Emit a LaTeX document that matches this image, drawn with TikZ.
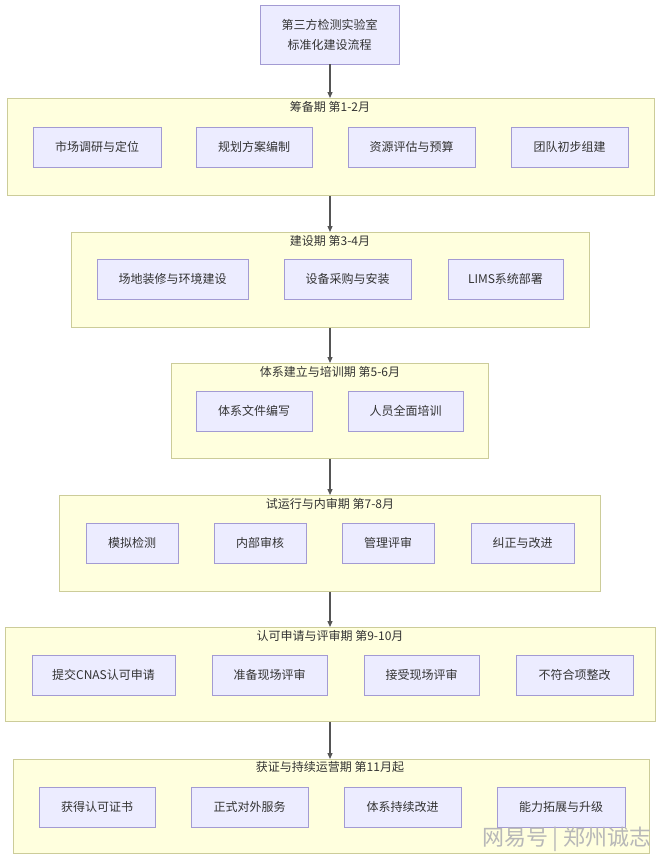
\documentclass[tikz,border=0pt]{standalone}
\usepackage{fontspec}
\setmainfont{Noto Sans CJK SC}
\usetikzlibrary{arrows.meta}
\definecolor{nodefill}{HTML}{ECECFF}
\definecolor{nodeline}{HTML}{A39BD3}
\definecolor{clfill}{HTML}{FFFFDE}
\definecolor{clline}{HTML}{CCCC99}
\definecolor{txt}{HTML}{333333}
\definecolor{arr}{HTML}{555555}
\definecolor{wmark}{HTML}{B8B8B8}
\begin{document}
\begin{tikzpicture}[x=1pt,y=-1pt,
  stepbox/.style={draw=nodeline, fill=nodefill, line width=0.8pt, minimum height=40pt, inner sep=0pt, text=txt, font=\fontsize{12}{14}\selectfont},
  cluster/.style={draw=clline, fill=clfill, line width=0.8pt, inner sep=0pt, anchor=north west},
  cltitle/.style={text=txt, font=\fontsize{12}{14}\selectfont, inner sep=0pt},
  flow/.style={draw=arr, line width=1.2pt, -{Triangle[length=6pt,width=5pt]}}
]
\useasboundingbox[fill=white] (0,0) rectangle (660,860);

% title
\node[stepbox, minimum width=139pt, minimum height=59pt, align=center, font=\fontsize{12}{20}\selectfont] (top) at (329.5,34.5) {第三方检测实验室\\标准化建设流程};

% cluster 1
\node[cluster, minimum width=647pt, minimum height=97pt] (c1) at (7,98) {};
\node[cltitle] (t1) at (330,107) {筹备期 第1-2月};
\node[stepbox, minimum width=128pt] (a1) at (97,147) {市场调研与定位};
\node[stepbox, minimum width=116pt] (a2) at (254,147) {规划方案编制};
\node[stepbox, minimum width=127pt] (a3) at (411.5,147) {资源评估与预算};
\node[stepbox, minimum width=117pt] (a4) at (569.5,147) {团队初步组建};

% cluster 2
\node[cluster, minimum width=518pt, minimum height=95pt] (c2) at (71,232) {};
\node[cltitle] (t2) at (330,241) {建设期 第3-4月};
\node[stepbox, minimum width=151pt] (b1) at (172.5,279) {场地装修与环境建设};
\node[stepbox, minimum width=127pt] (b2) at (347.5,279) {设备采购与安装};
\node[stepbox, minimum width=115pt] (b3) at (505.5,279) {LIMS系统部署};

% cluster 3
\node[cluster, minimum width=317pt, minimum height=95pt] (c3) at (171,363) {};
\node[cltitle] (t3) at (330,372) {体系建立与培训期 第5-6月};
\node[stepbox, minimum width=116pt] (d1) at (254,411) {体系文件编写};
\node[stepbox, minimum width=115pt] (d2) at (405.5,411) {人员全面培训};

% cluster 4
\node[cluster, minimum width=541pt, minimum height=96pt] (c4) at (59,495) {};
\node[cltitle] (t4) at (330,504) {试运行与内审期 第7-8月};
\node[stepbox, minimum width=92pt] (e1) at (132,543) {模拟检测};
\node[stepbox, minimum width=92pt] (e2) at (260,543) {内部审核};
\node[stepbox, minimum width=92pt] (e3) at (388,543) {管理评审};
\node[stepbox, minimum width=103pt] (e4) at (522.5,543) {纠正与改进};

% cluster 5
\node[cluster, minimum width=650pt, minimum height=94pt] (c5) at (5,627) {};
\node[cltitle] (t5) at (330,636) {认可申请与评审期 第9-10月};
\node[stepbox, minimum width=143pt] (f1) at (103.5,675) {提交CNAS认可申请};
\node[stepbox, minimum width=115pt] (f2) at (269.5,675) {准备现场评审};
\node[stepbox, minimum width=115pt] (f3) at (421.5,675) {接受现场评审};
\node[stepbox, minimum width=117pt] (f4) at (574.5,675) {不符合项整改};

% cluster 6
\node[cluster, minimum width=636pt, minimum height=94pt] (c6) at (13,759) {};
\node[cltitle] (t6) at (330,767) {获证与持续运营期 第11月起};
\node[stepbox, minimum width=116pt] (g1) at (97,807) {获得认可证书};
\node[stepbox, minimum width=117pt] (g2) at (249.5,807) {正式对外服务};
\node[stepbox, minimum width=117pt] (g3) at (402.5,807) {体系持续改进};
\node[stepbox, minimum width=128pt] (g4) at (561,807) {能力拓展与升级};

% connectors
\draw[flow] (top.south -| t1) -- (t1 |- c1.north);
\draw[flow] (t1 |- c1.south) -- (t2 |- c2.north);
\draw[flow] (t2 |- c2.south) -- (t3 |- c3.north);
\draw[flow] (t3 |- c3.south) -- (t4 |- c4.north);
\draw[flow] (t4 |- c4.south) -- (t5 |- c5.north);
\draw[flow] (t5 |- c5.south) -- (t6 |- c6.north);

% watermark
\node[text=wmark, font=\fontsize{22}{22}\selectfont, anchor=east, inner sep=0pt] (wm) at (652,839) {网易号 | 郑州诚志};
\end{tikzpicture}
\end{document}
